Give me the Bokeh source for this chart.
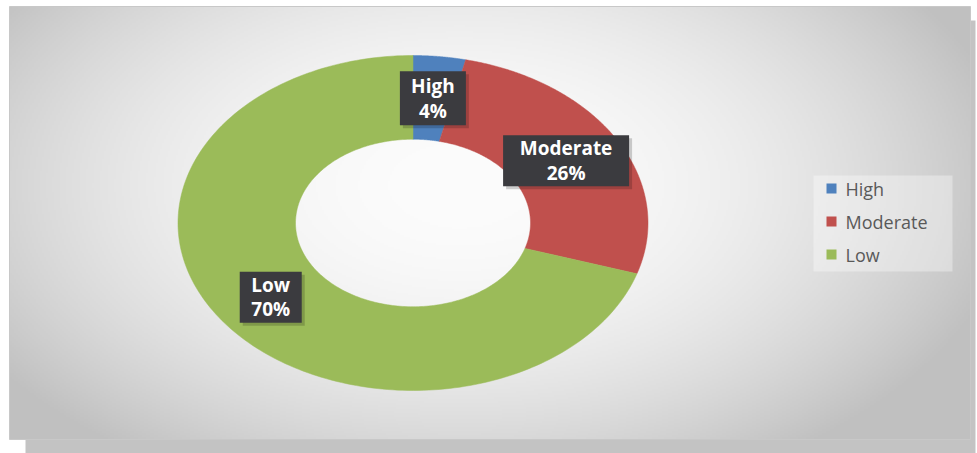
import numpy as np
from bokeh.plotting import figure
from bokeh.models import Range1d, ColumnDataSource
from bokeh.core.properties import value
from bokeh.embed import file_html
from bokeh.resources import INLINE

# ---- data ----
categories = ["High", "Moderate", "Low"]
shares = [3.6, 26.3, 70.1]          # percent of total
colors = ["#4F81BD", "#C0504D", "#9BBB59"]

# ---- layout / style (page pixels) ----
W, H = 977, 453
CX, CY = 412.5, 222.5      # donut centre
RX, RY = 235.0, 167.5      # outer radii (chart is stretched horizontally)
HOLE = 0.5                 # inner / outer radius
LABEL_R = 0.75
box_w = [66, 126, 62]
box_h = [54, 51, 51]


def Y(ypix):
    return H - ypix


p = figure(width=W, height=H, x_range=Range1d(0, W), y_range=Range1d(0, H),
           output_backend="svg", toolbar_location=None, min_border=0)
p.axis.visible = False
p.grid.visible = False
p.outline_line_color = None
p.background_fill_color = "white"
p.border_fill_color = "white"

# drop shadow of the panel
p.quad(left=25, right=975, bottom=Y(453), top=Y(20), fill_color="#c3c3c3", line_color=None)

# panel with radial gradient background
PX0, PX1, PY0, PY1 = 9, 970, 6, 439
nx, ny = (PX1 - PX0) // 2, (PY1 - PY0) // 2
xs = PX0 + (np.arange(nx) + 0.5) * (PX1 - PX0) / nx
ys_pix = PY1 - (np.arange(ny) + 0.5) * (PY1 - PY0) / ny
gx, gy = np.meshgrid(xs, ys_pix)
d2 = ((gx - 460) / 540.0) ** 2 + ((gy - 185) / 320.0) ** 2
g = np.clip(252 - 56 * d2, 192, 255).astype(np.uint32)
img = (255 << 24) | (g << 16) | (g << 8) | g
p.image_rgba(image=[img.astype(np.uint32)], x=PX0, y=Y(PY1), dw=PX1 - PX0, dh=PY1 - PY0)
p.quad(left=PX0, right=PX1, bottom=Y(PY1), top=Y(PY0), fill_color=None,
       line_color="#c8c8c8", line_width=1)

# donut slices (angles clockwise from 12 o'clock)
total = float(sum(shares))
fr = np.array(shares) / total
ends = np.cumsum(fr) * 2 * np.pi
starts = ends - fr * 2 * np.pi
pxs, pys = [], []
for a0, a1 in zip(starts, ends):
    t = np.linspace(a0, a1, 200)
    ox = CX + RX * np.sin(t)
    oy = Y(CY - RY * np.cos(t))
    ix = CX + HOLE * RX * np.sin(t[::-1])
    iy = Y(CY - HOLE * RY * np.cos(t[::-1]))
    pxs.append(list(np.concatenate([ox, ix])))
    pys.append(list(np.concatenate([oy, iy])))
p.patches(xs=pxs, ys=pys, fill_color=colors, line_color=colors, line_width=0.5)

# data labels at slice mid-angle
mid = (starts + ends) / 2
lx = CX + LABEL_R * RX * np.sin(mid)
ly = [Y(CY - LABEL_R * RY * np.cos(m)) for m in mid]
texts = [f"{c}\n{round(s / total * 100)}%" for c, s in zip(categories, shares)]
lab = ColumnDataSource(dict(x=list(lx), y=ly, w=box_w, h=box_h, t=texts,
                            xs=list(lx + 3), ys=[v - 3 for v in ly]))
p.rect(x="xs", y="ys", width="w", height="h", source=lab, fill_color="black",
       fill_alpha=0.18, line_color=None)
p.rect(x="x", y="y", width="w", height="h", source=lab, fill_color="#3b3b3f",
       line_color=None)
p.text(x="x", y="y", text="t", source=lab, text_align="center", text_baseline="middle",
       text_color="white", text_font=value("Open Sans"), text_font_style="bold",
       text_font_size="19px", text_line_height=0.95)

# legend (drawn from the categories)
p.quad(left=813, right=952, bottom=Y(271), top=Y(175), fill_color="white",
       fill_alpha=0.35, line_color=None)
leg_y = [Y(188 + 33 * i) for i in range(len(categories))]
leg = ColumnDataSource(dict(y=leg_y, c=colors, t=categories))
p.scatter(x=831, y="y", marker="square", size=10, fill_color="c", line_color=None, source=leg)
p.text(x=845, y="y", text="t", source=leg, text_baseline="middle", text_align="left",
       text_color="#595959", text_font=value("Open Sans"), text_font_size="18px")

open("out.html", "w").write(file_html(p, INLINE))
